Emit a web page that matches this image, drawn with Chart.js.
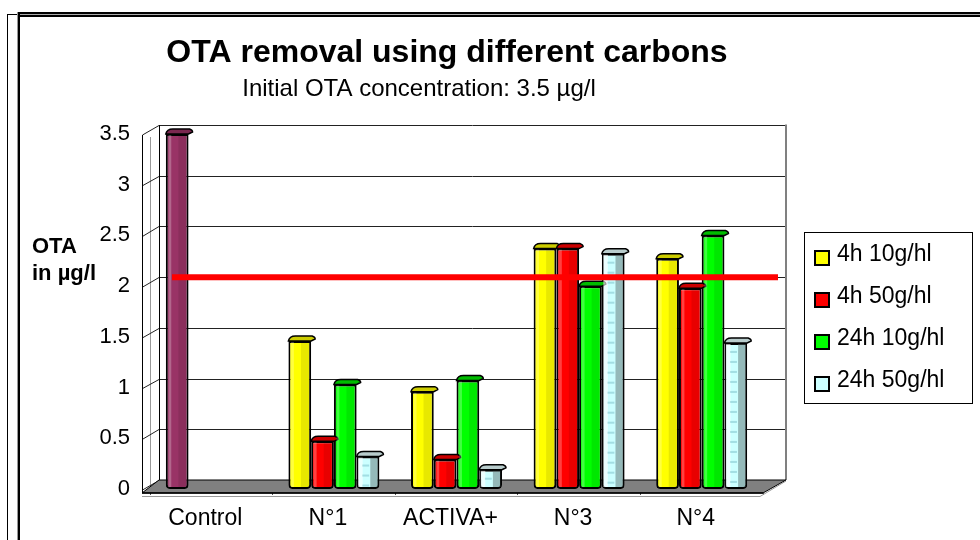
<!DOCTYPE html>
<html><head><meta charset="utf-8">
<script src="https://cdn.jsdelivr.net/npm/chart.js@4.4.0/dist/chart.umd.min.js"></script>
<style>html,body{margin:0;padding:0;background:#fff;}#wrap{position:relative;width:980px;height:540px;}</style>
</head><body><div id="wrap"><canvas id="c" width="980" height="540"></canvas></div>
<script>
const categories = ['Control', 'N°1', 'ACTIVA+', 'N°3', 'N°4'];
const seriesNames = ['4h 10g/hl', '4h 50g/hl', '24h 10g/hl', '24h 50g/hl'];
const s4h10 = [3.5, 1.46, 0.96, 2.37, 2.27];
const s4h50 = [null, 0.47, 0.29, 2.37, 1.98];
const s24h10 = [null, 1.03, 1.07, 2.0, 2.5];
const s24h50 = [null, 0.32, 0.19, 2.32, 1.44];
const seriesColors = ['#FFFF00', '#FF0000', '#00FF00', '#CCFFFF'];
const capColors = ['#CCCC00', '#CC0000', '#00BB00', '#B8CCCC'];
const controlColor = '#993366';
const controlCapColor = '#7A2850';
const yTicks = [0, 0.5, 1, 1.5, 2, 2.5, 3, 3.5];
const yTickLabels = ['0', '0.5', '1', '1.5', '2', '2.5', '3', '3.5'];
const limitValue = 2.0;
const titleText = 'OTA removal using different carbons';
const subtitleText = 'Initial OTA concentration: 3.5 µg/l';
const yTitleLines = ['OTA', 'in µg/l'];

const FONT = '"Liberation Sans", Arial, sans-serif';
const seriesData = [s4h10, s4h50, s24h10, s24h50];

const datasets = seriesData.map((d, i) => ({
  label: seriesNames[i],
  data: d,
  backgroundColor: i === 0 ? d.map((v, j) => j === 0 ? controlColor : seriesColors[0]) : seriesColors[i],
  borderColor: '#000',
  borderWidth: 2,
  borderSkipped: false,
  borderRadius: {topLeft: 0, topRight: 0, bottomLeft: 4, bottomRight: 4},
  barPercentage: 1.0,
  categoryPercentage: 0.742
}));

const decorPlugin = {
  id: 'decor',
  beforeDraw(chart) {
    const ctx = chart.ctx;
    ctx.save();
    ctx.fillStyle = '#000';
    ctx.fillRect(7, 14, 1, 526);
    ctx.fillRect(7, 14, 11, 1);
    ctx.fillStyle = '#999'; ctx.fillRect(17, 12, 1, 528);
    ctx.fillStyle = '#000'; ctx.fillRect(18, 12, 2, 528);
    ctx.fillRect(18, 12, 962, 2);
    ctx.fillStyle = '#aaa'; ctx.fillRect(20, 14, 960, 1);
    ctx.fillStyle = '#000'; ctx.fillRect(20, 15, 960, 2);
    ctx.fillStyle = '#000';
    ctx.textAlign = 'center';
    ctx.textBaseline = 'alphabetic';
    ctx.font = 'bold 32px ' + FONT;
    ctx.fillText(titleText, 447, 62);
    ctx.font = '24px ' + FONT;
    ctx.fillText(subtitleText, 419, 96);
    ctx.textAlign = 'left';
    ctx.font = 'bold 22px ' + FONT;
    ctx.fillText(yTitleLines[0], 32, 253);
    ctx.fillText(yTitleLines[1], 32, 280);
    ctx.restore();
  },
  beforeDatasetsDraw(chart) {
    const ctx = chart.ctx, ca = chart.chartArea, ys = chart.scales.y;
    const FL = ca.left - 8, FR = ca.right, FB = ca.bottom + 4;
    const BL = ca.left + 9, BR = ca.right + 23, D = 9;
    const yb = v => ys.getPixelForValue(v) - D;
    const top = yb(yTicks[yTicks.length - 1]), y0 = yb(0);
    ctx.save();
    ctx.strokeStyle = '#999'; ctx.lineWidth = 1;
    ctx.beginPath(); ctx.moveTo(FL + 8.5, top + 12); ctx.lineTo(FL + 8.5, FB - 4); ctx.stroke();
    ctx.strokeStyle = '#222'; ctx.lineWidth = 1;
    yTicks.forEach(v => {
      const y = Math.round(yb(v)) + 0.5;
      ctx.beginPath(); ctx.moveTo(BL, y); ctx.lineTo(BR, y); ctx.stroke();
      ctx.beginPath(); ctx.moveTo(FL + 0.5, ys.getPixelForValue(v) + 1); ctx.lineTo(BL, y); ctx.stroke();
    });
    ctx.strokeStyle = '#000';
    ctx.beginPath(); ctx.moveTo(BL + 0.5, top); ctx.lineTo(BL + 0.5, y0); ctx.stroke();
    ctx.strokeStyle = '#808080'; ctx.lineWidth = 2;
    ctx.beginPath(); ctx.moveTo(BR, top - 0.5); ctx.lineTo(BR, y0); ctx.stroke();
    ctx.fillStyle = '#808080';
    ctx.strokeStyle = '#000'; ctx.lineWidth = 1;
    ctx.beginPath();
    ctx.moveTo(FL, FB); ctx.lineTo(FR, FB); ctx.lineTo(BR, y0); ctx.lineTo(BL, y0); ctx.closePath();
    ctx.fill(); ctx.stroke();
    ctx.strokeStyle = '#999';
    ctx.beginPath(); ctx.moveTo(FL, FB + 3.5); ctx.lineTo(FR - 3, FB + 3.5); ctx.lineTo(BR, y0 + 1); ctx.stroke();
    ctx.strokeStyle = '#000'; ctx.lineWidth = 1.5;
    ctx.beginPath(); ctx.moveTo(FL, FB); ctx.lineTo(FR, FB); ctx.stroke();
    ctx.lineWidth = 1;
    ctx.beginPath(); ctx.moveTo(FL + 0.5, ys.getPixelForValue(yTicks[yTicks.length - 1]) + 1); ctx.lineTo(FL + 0.5, FB); ctx.stroke();
    ctx.restore();
  },
  afterDatasetsDraw(chart) {
    const ctx = chart.ctx, ca = chart.chartArea, ys = chart.scales.y;
    ctx.save();
    chart.data.datasets.forEach((ds, di) => {
      const meta = chart.getDatasetMeta(di);
      meta.data.forEach((el, j) => {
        const v = ds.data[j];
        if (v === null || v === undefined) return;
        const p = el.getProps(['x', 'y', 'base', 'width'], true);
        const l = p.x - p.width / 2, r = p.x + p.width / 2;
        const isCtrl = di === 0 && j === 0;
        if (di === 3) {
          ctx.fillStyle = 'rgba(255,255,255,0.6)';
          ctx.fillRect(l + 1.5, p.y + 1, p.width * 0.2, p.base - p.y - 3);
          ctx.fillStyle = 'rgba(120,190,200,0.5)';
          for (let yy = p.y + 8; yy < p.base - 4; yy += 10) ctx.fillRect(l + p.width * 0.25, yy, p.width * 0.3, 2);
          ctx.fillStyle = 'rgba(80,100,100,0.45)';
          ctx.fillRect(l + p.width * 0.6, p.y + 1, p.width * 0.4 - 1.5, p.base - p.y - 3);
        } else {
          ctx.fillStyle = 'rgba(0,0,0,0.09)';
          ctx.fillRect(l + p.width * 0.55, p.y + 1, p.width * 0.45 - 1.5, p.base - p.y - 3);
          ctx.fillStyle = 'rgba(255,255,255,0.25)';
          ctx.fillRect(l + p.width * 0.12, p.y + 1, p.width * 0.12, p.base - p.y - 3);
        }
        const dx = 4, dy = 5;
        ctx.fillStyle = isCtrl ? controlCapColor : capColors[di];
        ctx.strokeStyle = '#000'; ctx.lineWidth = 1.5;
        ctx.beginPath();
        ctx.moveTo(l, p.y);
        ctx.quadraticCurveTo(l + 1, p.y - dy, l + dx + 3, p.y - dy);
        ctx.lineTo(r + dx - 3, p.y - dy);
        ctx.quadraticCurveTo(r + dx, p.y - dy + 1, r + dx, p.y - 2);
        ctx.lineTo(r, p.y);
        ctx.closePath();
        ctx.fill(); ctx.stroke();
      });
    });
    const yl = ys.getPixelForValue(limitValue) - 9;
    ctx.strokeStyle = '#FF0000'; ctx.lineWidth = 6; ctx.lineCap = 'butt';
    ctx.beginPath(); ctx.moveTo(ca.left + 22, yl); ctx.lineTo(ca.right + 15, yl); ctx.stroke();
    ctx.restore();
  },
  afterDraw(chart) {
    const ctx = chart.ctx;
    ctx.save();
    ctx.strokeStyle = '#000'; ctx.lineWidth = 1;
    ctx.strokeRect(804.5, 232.5, 168, 171);
    ctx.font = '23px ' + FONT;
    ctx.textAlign = 'left'; ctx.textBaseline = 'alphabetic';
    seriesNames.forEach((n, i) => {
      const yc = 258 + 42 * i;
      ctx.fillStyle = seriesColors[i];
      ctx.fillRect(815, yc - 7, 14, 14);
      ctx.lineWidth = 2; ctx.strokeStyle = '#000';
      ctx.strokeRect(815, yc - 7, 14, 14);
      ctx.fillStyle = '#000';
      ctx.fillText(n, 837, yc + 3);
    });
    ctx.restore();
  }
};

new Chart(document.getElementById('c'), {
  type: 'bar',
  data: { labels: categories, datasets },
  options: {
    responsive: false,
    animation: false,
    layout: { padding: { left: 0, right: 217, top: 134, bottom: 0 } },
    plugins: { legend: { display: false }, title: { display: false }, tooltip: { enabled: false } },
    scales: {
      x: {
        offset: true,
        grid: { offset: true, drawOnChartArea: false, drawTicks: true, tickLength: 6, color: '#555', lineWidth: 1 },
        border: { display: false },
        ticks: { color: '#000', font: { family: FONT, size: 23 }, padding: 10, labelOffset: -6, maxRotation: 0, autoSkip: false },
        afterFit(s) { s.height = 51; }
      },
      y: {
        min: 0, max: 3.5,
        grid: { display: false },
        border: { display: false },
        afterBuildTicks(s) { s.ticks = yTicks.map(v => ({ value: v })); },
        ticks: {
          color: '#000', font: { family: FONT, size: 22 }, padding: 12,
          callback: (v) => { const k = yTicks.indexOf(v); return k >= 0 ? yTickLabels[k] : String(v); }
        },
        afterFit(s) { s.width = 150; }
      }
    }
  },
  plugins: [decorPlugin]
});
</script></body></html>
